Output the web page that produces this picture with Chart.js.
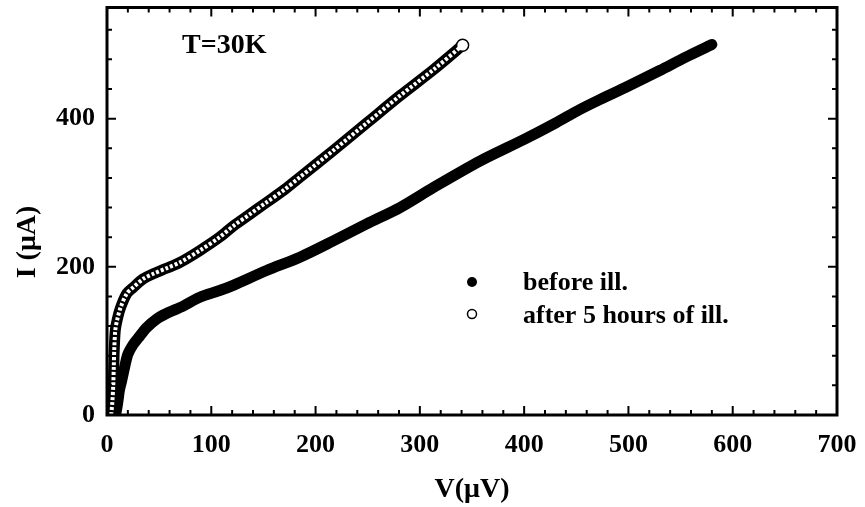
<!DOCTYPE html>
<html>
<head>
<meta charset="utf-8">
<script src="https://cdn.jsdelivr.net/npm/chart.js@4"></script>
<style>
  html, body { margin: 0; padding: 0; background: #fff; }
  #wrap { width: 865px; height: 507px; }
</style>
</head>
<body>
<div id="wrap"><canvas id="c" width="865" height="507"></canvas></div>
<script>
// ---- data ----
const beforeV = [8, 9, 10, 11, 12, 14, 17, 20, 25, 30, 38, 48, 57, 73, 89, 108, 121, 153, 185, 217, 249, 281, 313, 358, 400, 430, 453, 473, 500, 530, 555, 580];
const beforeI = [0, 6, 14, 24, 34, 46, 65, 82, 95, 104, 118, 130, 137, 147, 159, 168, 175, 195, 213, 235, 258, 280, 307, 343, 372, 394, 412, 426, 444, 465, 483, 500];

const afterV = [4, 5, 6, 6.5, 7, 8, 10, 13, 19, 25, 35, 45, 57, 70, 89, 108, 121, 137, 153, 170, 185, 217, 249, 281, 313, 341];
const afterI = [0, 15, 40, 65, 90, 115, 130, 145, 164, 172, 184, 191, 198, 206, 222, 240, 255, 271, 287, 304, 321, 357, 394, 431, 466, 499];

const xTicks = [0, 20, 40, 60, 80, 100, 120, 140, 160, 180, 200, 220, 240, 260, 280, 300, 320, 340, 360, 380, 400, 420, 440, 460, 480, 500, 520, 540, 560, 580, 600, 620, 640, 660, 680, 700];
const xLabels = [0, 100, 200, 300, 400, 500, 600, 700];
const yTicks = [0, 40, 80, 120, 160, 200, 240, 280, 320, 360, 400, 440, 480, 520];
const yLabels = [0, 200, 400];

const seriesNames = ['before ill.', 'after 5 hours of ill.'];
const annotationText = 'T=30K';
const xTitle = 'V(\u03bcV)';
const yTitle = 'I (\u03bcA)';

const toPts = (xs, ys) => xs.map((v, i) => ({ x: v, y: ys[i] }));
const FONT = '"Liberation Serif", "Times New Roman", serif';

const framePlugin = {
  id: 'frame',
  afterDatasetsDraw(chart) {
    const { ctx, chartArea: a, scales } = chart;
    ctx.save();
    ctx.strokeStyle = '#000';
    ctx.lineWidth = 3;
    ctx.strokeRect(a.left, a.top, a.right - a.left, a.bottom - a.top);
    ctx.lineWidth = 2;
    xTicks.forEach(v => {
      const px = scales.x.getPixelForValue(v);
      const len = xLabels.includes(v) ? 9 : 5;
      ctx.beginPath();
      ctx.moveTo(px, a.bottom); ctx.lineTo(px, a.bottom - len);
      ctx.moveTo(px, a.top); ctx.lineTo(px, a.top + len);
      ctx.stroke();
    });
    yTicks.forEach(v => {
      const py = scales.y.getPixelForValue(v);
      const len = yLabels.includes(v) ? 9 : 5;
      ctx.beginPath();
      ctx.moveTo(a.left, py); ctx.lineTo(a.left + len, py);
      ctx.moveTo(a.right, py); ctx.lineTo(a.right - len, py);
      ctx.stroke();
    });
    ctx.restore();
  },
  afterDraw(chart) {
    const { ctx } = chart;
    ctx.save();
    ctx.fillStyle = '#000';
    ctx.textBaseline = 'middle';
    ctx.textAlign = 'left';
    ctx.font = 'bold 28px ' + FONT;
    ctx.fillText(annotationText, 182, 46);
    // y axis title
    ctx.save();
    ctx.translate(28, 242);
    ctx.rotate(-Math.PI / 2);
    ctx.textAlign = 'center';
    ctx.fillText(yTitle, 0, 0);
    ctx.restore();
    // legend
    ctx.font = 'bold 26px ' + FONT;
    ctx.fillText(seriesNames[0], 523, 283);
    ctx.fillText(seriesNames[1], 523, 316);
    ctx.beginPath();
    ctx.arc(472, 282, 5, 0, Math.PI * 2);
    ctx.fill();
    ctx.beginPath();
    ctx.lineWidth = 1.5;
    ctx.strokeStyle = '#000';
    ctx.arc(472, 314, 4.5, 0, Math.PI * 2);
    ctx.stroke();
    ctx.restore();
  }
};

const lastIdx = afterV.length - 1;

new Chart(document.getElementById('c'), {
  type: 'scatter',
  data: {
    datasets: [
      {
        label: seriesNames[0],
        data: toPts(beforeV, beforeI),
        showLine: true,
        borderColor: '#000',
        backgroundColor: '#000',
        borderWidth: 11,
        borderCapStyle: 'round',
        borderJoinStyle: 'round',
        pointRadius: 4,
        pointBorderWidth: 0,
        tension: 0.3,
        order: 2
      },
      {
        label: seriesNames[1],
        data: toPts(afterV, afterI),
        showLine: true,
        borderColor: '#000',
        backgroundColor: '#fff',
        borderWidth: 11,
        borderCapStyle: 'round',
        borderJoinStyle: 'round',
        pointRadius: ctx => ctx.dataIndex === lastIdx ? 6 : 0,
        pointBorderWidth: 1.5,
        pointBorderColor: '#000',
        pointBackgroundColor: '#fff',
        tension: 0.3,
        order: 1
      },
      {
        label: 'inner',
        data: toPts(afterV, afterI),
        showLine: true,
        borderColor: '#fff',
        borderWidth: 4,
        borderDash: [3, 2],
        pointRadius: ctx => ctx.dataIndex === lastIdx ? 4.5 : 0,
        pointBorderWidth: 0,
        pointBackgroundColor: '#fff',
        tension: 0.3,
        order: 0
      }
    ]
  },
  options: {
    responsive: false,
    animation: false,
    devicePixelRatio: 1,
    layout: { padding: { top: 5, right: 28, left: 0, bottom: 0 } },
    plugins: { legend: { display: false }, tooltip: { enabled: false } },
    scales: {
      x: {
        type: 'linear',
        min: 0, max: 700,
        afterBuildTicks: s => { s.ticks = xTicks.map(v => ({ value: v })); },
        afterFit: s => { s.height = 92; s.paddingLeft = 0; s.paddingRight = 0; },
        grid: { display: false, drawTicks: false },
        border: { display: false },
        ticks: {
          autoSkip: false, maxRotation: 0,
          padding: 15,
          color: '#000',
          font: { family: FONT, size: 26, weight: 'bold' },
          callback: v => xLabels.includes(v) ? String(v) : ''
        },
        title: {
          display: true, text: xTitle, color: '#000',
          font: { family: FONT, size: 28, weight: 'bold' },
          padding: { top: 0, bottom: 0 }
        }
      },
      y: {
        type: 'linear',
        min: 0, max: 550,
        afterBuildTicks: s => { s.ticks = yTicks.map(v => ({ value: v })); },
        afterFit: s => { s.width = 107; s.paddingTop = 0; s.paddingBottom = 0; },
        grid: { display: false, drawTicks: false },
        border: { display: false },
        ticks: {
          autoSkip: false,
          padding: 12,
          color: '#000',
          font: { family: FONT, size: 26, weight: 'bold' },
          callback: v => yLabels.includes(v) ? String(v) : ''
        },
        title: { display: false }
      }
    }
  },
  plugins: [framePlugin]
});
</script>
</body>
</html>
